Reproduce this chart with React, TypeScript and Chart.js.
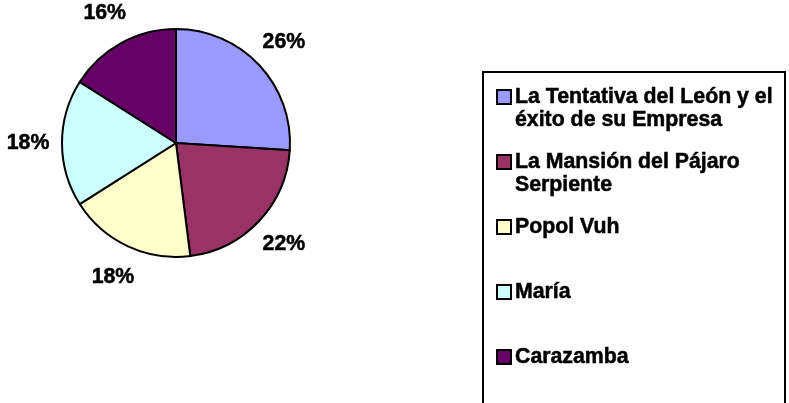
import React, { useEffect, useRef } from "react";
import { Chart, registerables } from "chart.js";

Chart.register(...registerables);

const categories: string[] = [
  "La Tentativa del León y el éxito de su Empresa",
  "La Mansión del Pájaro Serpiente",
  "Popol Vuh",
  "María",
  "Carazamba",
];
const values: number[] = [26, 22, 18, 18, 16];
const sliceColors: string[] = ["#9999FF", "#993366", "#FFFFCC", "#CCFFFF", "#660066"];

const FONT = "bold 21.3px 'Liberation Sans', Arial, sans-serif";

function wrapText(ctx: CanvasRenderingContext2D, text: string, maxW: number): string[] {
  const words = text.split(" ");
  const lines: string[] = [];
  let cur = "";
  for (const w of words) {
    const test = cur ? cur + " " + w : w;
    if (ctx.measureText(test).width > maxW && cur) {
      lines.push(cur);
      cur = w;
    } else {
      cur = test;
    }
  }
  if (cur) lines.push(cur);
  return lines;
}

function heavyText(ctx: CanvasRenderingContext2D, s: string, x: number, y: number) {
  ctx.fillText(s, x, y);
  ctx.strokeText(s, x, y);
}

const customPlugin = {
  id: "excelLike",
  afterDraw(chart: any) {
    const ctx: CanvasRenderingContext2D = chart.ctx;
    const meta = chart.getDatasetMeta(0);
    const data: number[] = chart.data.datasets[0].data;
    const total = data.reduce((a, b) => a + b, 0);
    ctx.save();
    ctx.font = FONT;
    ctx.fillStyle = "#000";
    ctx.strokeStyle = "#000";
    ctx.lineWidth = 0.5;
    ctx.textAlign = "center";
    ctx.textBaseline = "middle";
    meta.data.forEach((arc: any, i: number) => {
      const p = arc.getProps(["x", "y", "startAngle", "endAngle", "outerRadius"], true);
      const mid = (p.startAngle + p.endAngle) / 2;
      const d = p.outerRadius + 34;
      const lx = p.x + Math.cos(mid) * d;
      const ly = p.y + Math.sin(mid) * d;
      const pct = Math.round((data[i] / total) * 100) + "%";
      heavyText(ctx, pct, lx, ly);
    });

    // Legend box
    const boxL = 483, boxT = 72, boxR = 785, boxB = 430;
    ctx.lineWidth = 2;
    ctx.strokeStyle = "#000";
    ctx.strokeRect(boxL, boxT, boxR - boxL, boxB - boxT);

    ctx.textAlign = "left";
    ctx.textBaseline = "alphabetic";
    const labels: string[] = chart.data.labels;
    const colors: string[] = chart.data.datasets[0].backgroundColor;
    const textX = 515;
    const maxW = boxR - textX - 6;
    labels.forEach((lab, i) => {
      const base = 103 + i * 65;
      ctx.fillStyle = colors[i];
      ctx.fillRect(497, base - 13, 14, 14);
      ctx.lineWidth = 2;
      ctx.strokeStyle = "#000";
      ctx.strokeRect(497, base - 13, 14, 14);
      ctx.fillStyle = "#000";
      ctx.lineWidth = 0.5;
      const lines = wrapText(ctx, lab, maxW);
      lines.forEach((ln, j) => {
        heavyText(ctx, ln, textX, base + j * 22.5);
      });
    });
    ctx.restore();
  },
};

export default function App() {
  const ref = useRef<HTMLCanvasElement | null>(null);
  useEffect(() => {
    if (!ref.current) return;
    const chart = new Chart(ref.current, {
      type: "pie",
      data: {
        labels: categories,
        datasets: [
          {
            data: values,
            backgroundColor: sliceColors,
            borderColor: "#000",
            borderWidth: 2,
            borderJoinStyle: "miter",
          } as any,
        ],
      },
      options: {
        responsive: false,
        animation: false,
        layout: { padding: { left: 61, top: 28, right: 498, bottom: 145 } },
        plugins: {
          legend: { display: false },
          tooltip: { enabled: false },
        },
      },
      plugins: [customPlugin],
    });
    return () => chart.destroy();
  }, []);
  return (
    <div style={{ position: "fixed", left: 0, top: 0, width: 789, height: 403, background: "#fff" }}>
      <canvas ref={ref} width={789} height={403} />
    </div>
  );
}
